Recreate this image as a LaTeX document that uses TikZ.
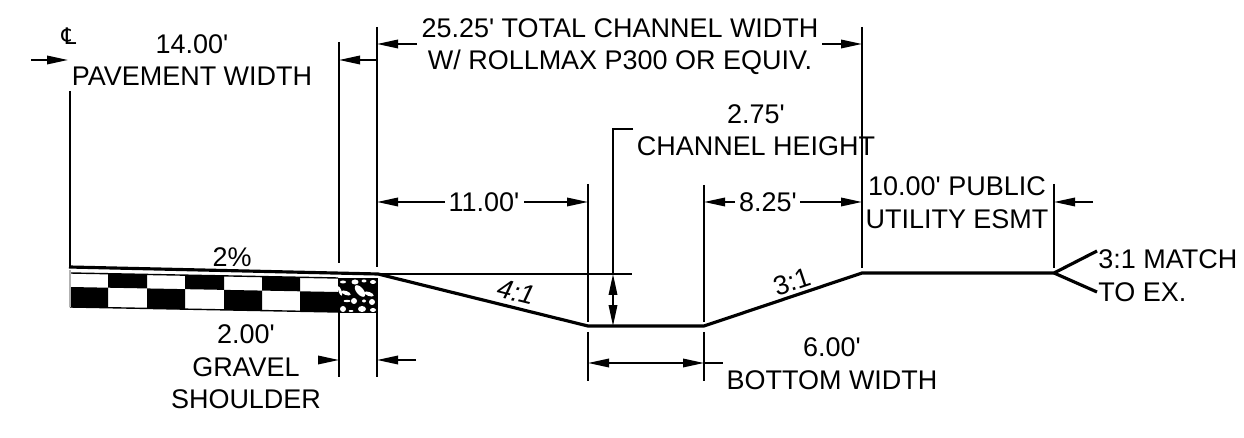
\documentclass[tikz,border=0pt]{standalone}
\usepackage{fontspec}
\newfontfamily\lblfont{Liberation Sans}
\newfontfamily\symfont{DejaVu Sans}
\usetikzlibrary{arrows.meta}
\tikzset{
	lbl/.style={inner sep=0pt, align=center, font=\lblfont\fontsize{15.35}{18.5}\selectfont},
	lblleft/.style={inner sep=0pt, anchor=west, font=\lblfont\fontsize{15.35}{18.5}\selectfont},
	extline/.style={black, line width=1.2pt},
	ground/.style={black, line width=1.8pt, line join=round},
	dimarrow/.style={black, line width=1pt, -{Triangle[length=0.42cm, width=0.17cm]}},
	dimboth/.style={black, line width=1pt, {Triangle[length=0.42cm, width=0.17cm]}-{Triangle[length=0.42cm, width=0.17cm]}},
}
\begin{document}
\begin{tikzpicture}[x=0.02cm, y=-0.02cm]
	\useasboundingbox (0,0) rectangle (1244,438);
	% pavement
	\foreach \xa/\xb in {108/147, 185/224, 262/300}
		\fill[black] (\xa,{273+0.0187*(\xa-70)}) -- (\xb,{273+0.0187*(\xb-70)}) -- (\xb,{287+0.0187*(\xb-70)}) -- (\xa,{287+0.0187*(\xa-70)}) -- cycle;
	\foreach \xa/\xb in {70/108, 147/185, 224/262, 300/338}
		\fill[black] (\xa,{287+0.0187*(\xa-70)}) -- (\xb,{287+0.0187*(\xb-70)}) -- (\xb,{307+0.0187*(\xb-70)}) -- (\xa,{307+0.0187*(\xa-70)}) -- cycle;
	\draw[black, line width=0.8pt] (70,273) -- (338,278);
	\draw[black, line width=0.8pt] (70,307) -- (338,312);
	\draw[gray!60, line width=0.6pt] (70,270) -- (70,307);
	% gravel
	\fill[black] (338,278) rectangle (378,313);
	\foreach \x/\y/\rx/\ry/\rot in {360/291/7/3.5/50, 346/293/5/2/20, 369/294/5/2/20, 355/282/3.5/2.5/0, 364/281/2.5/1.5/0, 343/282/3/1.5/0, 373/282/3/2/0, 354/301/3/3/0, 364/301/2/1.5/0, 372/302/3/3/0, 362/309/4/3/0, 343/309/3/3/0, 351/311/2.5/1/0, 373/310/3/2/0, 340/291/1.5/5/-20, 347/301/3.5/1.2/0}
		\fill[white, rotate around={-\rot:(\x,\y)}] (\x,\y) ellipse [x radius=\rx, y radius=\ry];
	% profile points
	\coordinate (padl) at (69,267);
	\coordinate (padr) at (378,274);
	\coordinate (toel) at (588,326);
	\coordinate (toer) at (704,326);
	\coordinate (topr) at (862,273);
	\coordinate (edge) at (1054,273);
	\coordinate (matcha) at (1097,251);
	\coordinate (matchb) at (1097,292);
	\coordinate (levelr) at (632,274);
	\draw[ground] (padl) -- (padr) -- (toel) -- (toer) -- (topr) -- (edge) -- (matcha);
	\draw[ground] (edge) -- (matchb);
	\draw[extline] (padr) -- (levelr);
	% extension lines
	\draw[extline] (70,91) -- (70,267);
	\draw[extline] (339,42) -- (339,263);
	\draw[extline] (377,27) -- (377,267);
	\draw[extline] (588,184) -- (588,322);
	\draw[extline] (704,185) -- (704,322);
	\draw[extline] (862,27) -- (862,268);
	\draw[extline] (1054,184) -- (1054,268);
	\draw[extline] (339,313) -- (339,377);
	\draw[extline] (377,313) -- (377,377);
	\draw[extline] (588,332) -- (588,381);
	\draw[extline] (704,332) -- (704,381);
	\draw[extline] (633,129) -- (613,129) -- (613,274);
	% dimension arrows
	\coordinate (clstart) at (31,60);
	\coordinate (clend) at (68,60);
	\coordinate (pavestart) at (377,60);
	\coordinate (paveend) at (339,60);
	\coordinate (totalstarta) at (417,44);
	\coordinate (totalenda) at (377,44);
	\coordinate (totalstartb) at (822,44);
	\coordinate (totalendb) at (862,44);
	\coordinate (elevenstarta) at (445,202);
	\coordinate (elevenenda) at (377,202);
	\coordinate (elevenstartb) at (524,202);
	\coordinate (elevenendb) at (588,202);
	\coordinate (sidestarta) at (735,202);
	\coordinate (sideenda) at (704,202);
	\coordinate (sidestartb) at (800,202);
	\coordinate (sideendb) at (862,202);
	\coordinate (esmtstart) at (1093,202);
	\coordinate (esmtend) at (1054,202);
	\coordinate (gravelstarta) at (319,360);
	\coordinate (gravelenda) at (339,360);
	\coordinate (gravelstartb) at (416,360);
	\coordinate (gravelendb) at (377,360);
	\coordinate (bottoma) at (588,363);
	\coordinate (bottomb) at (704,363);
	\coordinate (bottomtail) at (723,363);
	\coordinate (heighta) at (613,274);
	\coordinate (heightb) at (613,326);
	\draw[dimarrow] (clstart) -- (clend);
	\draw[dimarrow] (pavestart) -- (paveend);
	\draw[dimarrow] (totalstarta) -- (totalenda);
	\draw[dimarrow] (totalstartb) -- (totalendb);
	\draw[dimarrow] (elevenstarta) -- (elevenenda);
	\draw[dimarrow] (elevenstartb) -- (elevenendb);
	\draw[dimarrow] (sidestarta) -- (sideenda);
	\draw[dimarrow] (sidestartb) -- (sideendb);
	\draw[dimarrow] (esmtstart) -- (esmtend);
	\draw[dimarrow] (gravelstarta) -- (gravelenda);
	\draw[dimarrow] (gravelstartb) -- (gravelendb);
	\draw[dimboth] (bottoma) -- (bottomb);
	\draw[black, line width=1pt] (bottomb) -- (bottomtail);
	\draw[dimboth] (heighta) -- (heightb);
	% labels
	\node[lbl, font=\symfont\fontsize{13}{14}\selectfont] (cl) at (69,36) {℄};
	\node[lbl] (pave) at (192,60) {14.00'\\PAVEMENT WIDTH};
	\node[lbl] (total) at (620,46.5) {25.25' TOTAL CHANNEL WIDTH\\W/ ROLLMAX P300 OR EQUIV.};
	\node[lbl] (height) at (756,130) {2.75'\\CHANNEL HEIGHT};
	\node[lbl] (eleven) at (484,202) {11.00'};
	\node[lbl] (side) at (768,202) {8.25'};
	\node[lbl] (esmt) at (957,202.5) {10.00' PUBLIC\\UTILITY ESMT};
	\node[lbl] (crown) at (232,257) {2\%};
	\node[lbl, rotate=-14] (slopel) at (516,292) {\itshape 4:1};
	\node[lbl, rotate=18.4] (sloper) at (792,282) {3:1};
	\node[lbl] (gravel) at (246,367) {2.00'\\GRAVEL\\SHOULDER};
	\node[lbl] (bottom) at (832,363.5) {6.00'\\BOTTOM WIDTH};
	\node[lblleft] (match) at (1098,259) {3:1 MATCH};
	\node[lblleft] (toex) at (1098,292) {TO EX.};
\end{tikzpicture}
\end{document}
